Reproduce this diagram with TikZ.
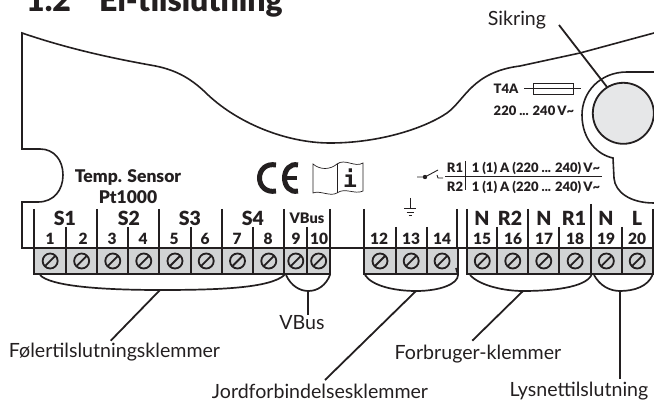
\documentclass[tikz,border=0pt]{standalone}
\usepackage{fontspec}
\usetikzlibrary{calc}
\setmainfont{Lato}[BoldFont={Lato Black}]
\newfontfamily\monoi{DejaVu Sans Mono}
\definecolor{ink}{HTML}{231F20}
\definecolor{cellgray}{HTML}{D1D3D4}
\definecolor{fusegray}{HTML}{E6E7E8}
\tikzset{
  outline/.style={draw=ink,line width=1.6pt,line join=miter},
  divider/.style={draw=ink,line width=1.7pt},
  cell/.style={draw=ink,line width=2pt,fill=cellgray},
  brace/.style={draw=ink,line width=1.7pt},
  leader/.style={draw=ink,line width=1.8pt},
  screwhead/.style={circle,draw=ink,line width=1.8pt,minimum size=15pt,inner sep=0pt},
  lbl/.style={text=ink,inner sep=0pt,font=\fontsize{19.6}{20}\selectfont},
  num/.style={text=ink,inner sep=0pt,font=\fontsize{15.5}{16}\selectfont\bfseries},
  grp/.style={text=ink,inner sep=0pt,font=\fontsize{19.5}{20}\selectfont\bfseries},
  small/.style={text=ink,inner sep=0pt,font=\fontsize{13}{13}\selectfont\bfseries},
  sens/.style={text=ink,inner sep=0pt,font=\fontsize{17.5}{18}\selectfont\bfseries},
}
\begin{document}
\begin{tikzpicture}[x=1pt,y=-1pt]
\useasboundingbox (0,0) rectangle (654,403);
\clip (0,0) rectangle (654,403);
% title
\node[anchor=base west,inner sep=0pt,text=ink,font=\fontsize{32}{32}\selectfont\bfseries] (titlenum) at (26,12) {1.2};
\node[anchor=base west,inner sep=0pt,text=ink,font=\fontsize{32}{32}\selectfont\bfseries] (titletxt) at (99,12) {El-tilslutning};
% housing outline
\draw[outline] (248,248) -- (22,248) -- (22,202) -- (38,202)
  .. controls (54,202) and (63,190) .. (63,175)
  .. controls (63,160) and (54,149) .. (40,149) -- (22,149) -- (22,33)
  .. controls (60,46) and (100,56) .. (150,65)
  .. controls (175,69) and (190,78) .. (205,92)
  .. controls (235,122) and (285,143) .. (330,143)
  .. controls (380,143) and (425,128) .. (447,113)
  .. controls (465,100) and (472,72) .. (520,66)
  -- (580,53) -- (654,33);
\draw[outline] (248,248) -- (654,248);
% fuse recess
\draw[outline] (654,72) -- (627,72)
  .. controls (600,72) and (582,92) .. (582,115)
  .. controls (582,140) and (598,155) .. (613,158)
  -- (614,178)
  .. controls (615,192) and (630,203) .. (654,203);
\node[circle,draw=ink,line width=1.8pt,fill=fusegray,minimum size=61pt,inner sep=0pt] (fuse) at (623.3,113.3) {};
% fuse symbol
\coordinate (fl) at (524,88.5);
\coordinate (fr) at (581,88.5);
\node[draw=ink,line width=0.8pt,minimum width=40pt,minimum height=11pt,inner sep=0pt] (fusebox) at (553,88.5) {};
\draw[ink,line width=0.8pt] (fl) -- (fr);
\node[small] (tfa) at (506,89) {T4A};
\node[small] (fv) at (534,111) {220 ... 240\,V\char"7E};
% Sikring
\node[lbl,anchor=center] (sik) at (517,20) {Sikring};
\coordinate (sikend) at (559,25);
\draw[leader] (sikend) -- (607,87);
% Temp sensor
\node[sens] (temp) at (128,177) {Temp. Sensor};
\node[sens] (pt) at (128,197) {Pt1000};
% CE mark
\draw[ink,line width=5pt] (276,165) .. controls (266,163) and (259.5,170) .. (259.5,178) .. controls (259.5,186) and (266,193) .. (276,191);
\draw[ink,line width=5pt] (298,165) .. controls (290,163) and (284.5,170) .. (284.5,178) .. controls (284.5,186) and (290,193) .. (298,191);
\draw[ink,line width=3.5pt] (285,178) -- (297,178);
% book
\draw[ink,line width=0.7pt] (313,164) .. controls (320,170) and (330,170) .. (337,164)
  .. controls (345,158) and (355,168) .. (363,163) -- (363,191)
  .. controls (355,195) and (345,187) .. (337,193)
  .. controls (330,197) and (320,190) .. (313,193) -- cycle;
\draw[ink,line width=0.7pt] (337,164) -- (337,193);
\node[text=ink,inner sep=0pt,font=\monoi\bfseries\fontsize{23}{23}\selectfont] (info) at (350,178) {i};
% relay table
\draw[ink,line width=0.9pt] (417,177) -- (425,177) -- (438,170);
\fill[ink] (425,177) circle (2.2pt);
\draw[ink,line width=0.9pt] (437,175) -- (438,178) -- (443,178);
\draw[ink,line width=1pt] (445,177) -- (602,177);
\draw[ink,line width=1pt] (465,161) -- (465,190);
\node[small] (r1) at (455,168) {R1};
\node[small] (r2) at (455,187) {R2};
\node[small] (r1v) at (536,168) {1 (1) A (220 ... 240)\,V\char"7E};
\node[small] (r2v) at (536,187) {1 (1) A (220 ... 240)\,V\char"7E};
% ground
\draw[ink,line width=0.8pt] (410,198) -- (410,208);
\draw[ink,line width=0.8pt] (404,208) -- (416,208) (406.5,212) -- (413.5,212) (408.5,215) -- (411.5,215);
% terminal cells
\foreach \a/\b/\n in {34.3/66/a1,66/97.3/a2,97.3/128.3/a3,128.3/159.3/a4,159.3/190.7/a5,190.7/221.7/a6,221.7/253.3/a7,253.3/284.3/a8,284.3/307.3/a9,307.3/330/a10,
  364.3/395.7/a12,395.7/426.7/a13,426.7/457.5/a14,467.3/497.3/a15,497.3/528.3/a16,528.3/559.3/a17,559.3/591/a18,591/621.7/a19,621.7/652.7/a20}{
  \draw[cell] (\a,248) rectangle (\b,274);
  \node[screwhead] (\n) at ({(\a+\b)/2},261) {};
  \draw[ink,line width=1.8pt] ($(\n)+(-4.8,4.8)$) -- ($(\n)+(4.8,-4.8)$);
}
% dividers
\foreach \x in {34.3,97.3,159.3,221.7,284.3,330,364.3,457,467.3,528.3}{\draw[divider] (\x,209) -- (\x,248);}
\draw[divider] (591,204) -- (591,248);
\draw[divider] (652.7,209) -- (652.7,248);
\foreach \x in {66,128.3,190.7,253.3,307.3,395.7,426.7,497.3,559.3,621.7}{\draw[divider] (\x,227) -- (\x,248);}
% numbers
\foreach \x/\t in {50/1,83/2,112/3,143/4,174/5,205/6,237/7,268/8,296/9,319/10,379/12,411/13,442/14,482/15,513/16,544/17,575/18,606/19,637/20}{
  \node[num] (n\t) at (\x,239) {\t};}
\foreach \x/\t/\m in {65/S1/g1,129/S2/g2,190/S3/g3,253/S4/g4,482/N/g5,510/R2/g6,544/N/g7,574/R1/g8,606/N/g9,637/L/g10}{
  \node[grp] (\m) at (\x,218) {\t};}
\node[text=ink,inner sep=0pt,font=\fontsize{14.5}{15}\selectfont\bfseries] (vb) at (307,218) {VBus};
% brackets
\coordinate (bs) at (160,290);
\coordinate (bv) at (308.3,291);
\coordinate (bj) at (416,291);
\coordinate (bf) at (523,291);
\coordinate (bl) at (620,291);
\draw[brace] (40,275) .. controls (50,286) and (100,290) .. (bs) .. controls (220,290) and (270,288) .. (284.5,275);
\draw[brace] (286,275) .. controls (291,286) and (300,291) .. (bv) .. controls (318,291) and (326,285) .. (330,275);
\draw[brace] (365,275) .. controls (372,286) and (395,291) .. (bj) .. controls (440,291) and (458,284) .. (458,275) -- (456,268);
\draw[brace] (470,275) .. controls (480,286) and (505,291) .. (bf) .. controls (550,291) and (585,288) .. (591.5,275);
\draw[brace] (594,275) .. controls (600,286) and (610,291) .. (bl) .. controls (635,291) and (648,286) .. (652.5,275);
% labels and leaders
\node[lbl] (fol) at (114.5,352) {Følertilslutningsklemmer};
\node[lbl] (vbl) at (302,323) {VBus};
\node[lbl] (jor) at (320,391) {Jordforbindelsesklemmer};
\node[lbl] (forb) at (478,354) {Forbruger-klemmer};
\node[lbl] (lys) at (579,391) {Lysnettilslutning};
\coordinate (e1) at (110.7,340.7);
\coordinate (e2) at (308.3,315);
\coordinate (e3) at (325,380);
\coordinate (e4) at (472.3,340.7);
\coordinate (e5) at (620,379);
\draw[leader] (bs) -- (e1);
\draw[leader] (bv) -- (e2);
\draw[leader] (bj) -- (e3);
\draw[leader] (bf) -- (e4);
\draw[leader] (bl) -- (e5);
\end{tikzpicture}
\end{document}
